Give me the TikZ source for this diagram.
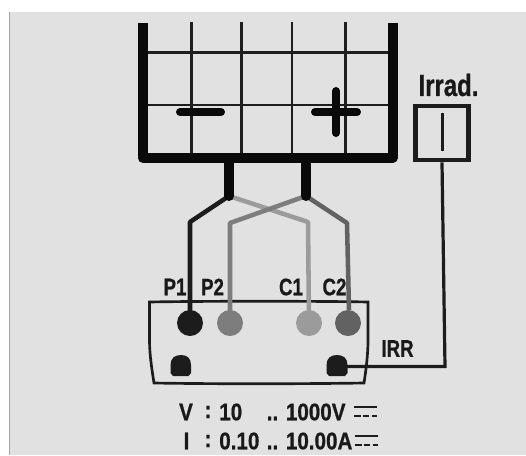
\documentclass[tikz,border=0pt]{standalone}
\usepackage{fontspec}
\newfontfamily\condfont{Liberation Sans}[UprightFont={* Bold},FakeStretch=0.78,FakeBold=0.7]
\newfontfamily\widefont{Liberation Sans}[UprightFont={* Bold},FakeStretch=0.86,FakeBold=0.7]
\tikzset{
    wire/.style={line width=3.4pt,line join=round},
    thinbar/.style={line width=1.6pt,color={rgb, 255:red, 30; green, 30; blue, 30 }},
    thickbar/.style={line width=7.5pt,color={rgb, 255:red, 10; green, 10; blue, 10 }},
    signbar/.style={line width=6pt,line cap=round,color={rgb, 255:red, 10; green, 10; blue, 10 }},
    lbl/.style={inner sep=0pt,color={rgb, 255:red, 25; green, 25; blue, 25 },font=\condfont\fontsize{18}{18}\selectfont},
    vallbl/.style={lbl,font=\widefont\fontsize{18}{18}\selectfont},
    jack/.style={circle,minimum size=19.5pt,inner sep=0pt}
}
\definecolor{pone}{RGB}{28,28,28}
\definecolor{ptwo}{RGB}{125,125,125}
\definecolor{cone}{RGB}{155,155,155}
\definecolor{ctwo}{RGB}{98,98,98}
\begin{document}
\begin{tikzpicture}[x=0.75pt,y=0.75pt,yscale=-1,xscale=1]
    \useasboundingbox (0,0) rectangle (526,455);

    %Background
    \fill [color={rgb, 255:red, 225; green, 225; blue, 225 }] (10,12) rectangle (526,455);
    \draw [line width=1.2pt,color={rgb, 255:red, 165; green, 165; blue, 165 }] (9.5,12) -- (9.5,455);

    %Panel grid
    \foreach \gx in {191.5,241.5,292,345.5} {
        \draw [thinbar] (\gx,22) -- (\gx,156);
    }
    \foreach \gy in {52.5,105} {
        \draw [thinbar] (143,\gy) -- (392,\gy);
    }
    %Panel frame
    \draw [thickbar,line join=round] (143,23) -- (143,158) -- (392.5,158) -- (392.5,23);
    %Minus and plus
    \draw [signbar] (180,112) -- (221,112);
    \draw [signbar] (315,112) -- (357,112);
    \draw [signbar] (336,91) -- (336,133);

    %Meter body
    \draw [line width=2pt,color=pone] (149.5,302) .. controls (200,301) and (320,301) .. (368,302) -- (368,340) .. controls (368,355) and (366,370) .. (364,383) .. controls (300,384) and (210,384) .. (154,383) .. controls (152,370) and (149.5,355) .. (149.5,340) -- cycle;

    %Terminals
    \node [jack,fill=pone] (pa) at (190,323) {};
    \node [jack,fill=ptwo] (pb) at (230,323) {};
    \node [jack,fill=cone] (ca) at (309,323) {};
    \node [jack,fill=ctwo] (cb) at (348,323) {};
    \fill [color=pone] (170.5,373) -- (170.5,365) .. controls (170.5,358) and (175,355) .. (181,355) .. controls (187,355) and (191,358) .. (191,365) -- (191,373) -- (188.5,376) -- (173,376) -- cycle;
    \fill [color=pone] (326.5,373) -- (326.5,365) .. controls (326.5,358) and (331,355) .. (337,355) .. controls (343,355) and (347.5,358) .. (347.5,365) -- (347.5,373) -- (345,376) -- (329,376) -- cycle;
    \coordinate (irrsocket) at (345,366.5);

    %Stems
    \coordinate (stemneg) at (229,161);
    \coordinate (stempos) at (306,161);
    \coordinate (jneg) at (229,196);
    \coordinate (jpos) at (306,196);
    %Leads
    \draw [wire,color=cone] (jneg) -- (308,222) -- (ca.center);
    \draw [wire,color=ptwo] (jpos) -- (230,223) -- (pb.center);
    \draw [wire,color=ctwo] (jpos) -- (347,223) -- (349,310);
    \draw [wire,color=pone] (jneg) -- (190,222) -- (pa.center);
    \draw [line width=7.5pt,line cap=round,color={rgb, 255:red, 10; green, 10; blue, 10 }] (stemneg) -- (jneg);
    \draw [line width=7.5pt,line cap=round,color={rgb, 255:red, 10; green, 10; blue, 10 }] (stempos) -- (jpos);

    %Irradiance sensor
    \node [draw=pone,line width=3.5pt,minimum width=39.5pt,minimum height=40.5pt,inner sep=0pt] (sensor) at (442,133) {};
    \draw [line width=2pt,color=pone] (442.5,113) -- (442.5,151);
    \draw [line width=2.4pt,color=pone,line join=miter] (irrsocket) -- (445,366.5) -- (sensor.south);

    % Text Node
    \node [lbl,font=\condfont\fontsize{23}{23}\selectfont] (irrad) at (448.5,85) {Irrad.};
    % Text Node
    \node [lbl] (lpa) at (175,287) {P1};
    \node [lbl] (lpb) at (212.5,287) {P2};
    \node [lbl] (lca) at (291,287) {C1};
    \node [lbl] (lcb) at (334.5,287) {C2};
    \node [lbl] (lirr) at (397.5,348.5) {IRR};
    % Text Node
    \node [vallbl] (lv) at (186,412) {V};
    \node [vallbl] (lvc) at (208,412) {:};
    \node [vallbl,anchor=west] (lvmin) at (219,412) {10};
    \node [vallbl,anchor=west] (lvmax) at (266.5,412) {.. 1000V};
    \node [vallbl] (li) at (186.5,441) {I};
    \node [vallbl] (lic) at (208,441) {:};
    \node [vallbl,anchor=west] (limin) at (219,441) {0.10};
    \node [vallbl,anchor=west] (limax) at (266.5,441) {.. 10.00A};

    %DC symbols
    \foreach \sx/\sy in {354/407,355/436} {
        \draw [line width=1.9pt,color=pone] (\sx,\sy) -- ++(23,0);
        \draw [line width=1.9pt,color=pone,dash pattern=on 5pt off 1.6pt] (\sx,\sy+9) -- ++(23,0);
    }
\end{tikzpicture}
\end{document}
